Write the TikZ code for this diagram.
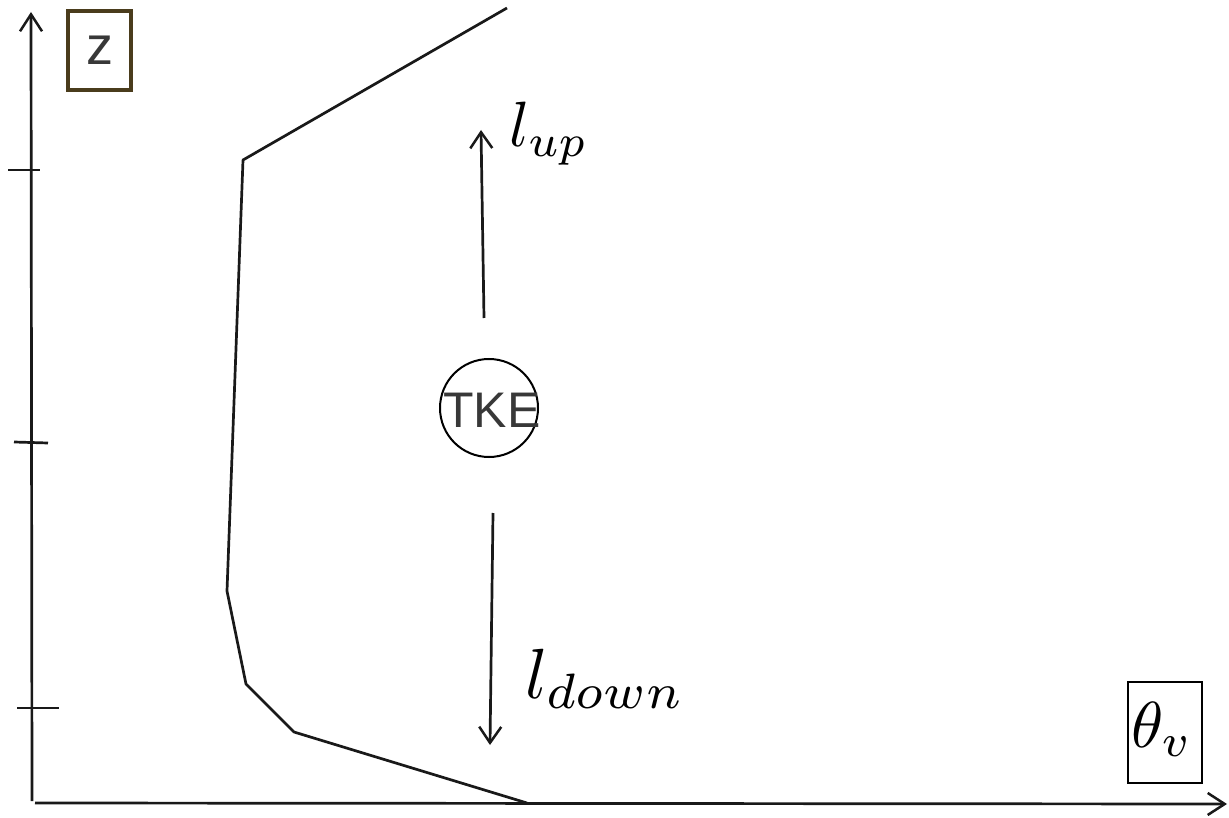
\documentclass[tikz,border=0pt]{standalone}
\usepackage{fontspec}
\usepackage{graphicx}
\setsansfont{Liberation Sans}
\usetikzlibrary{arrows.meta}
\definecolor{boxbrown}{HTML}{4A3C1C}
\definecolor{txtgray}{HTML}{383838}
\begin{document}
\begin{tikzpicture}[x=1pt,y=-1pt,
  axis/.style={line width=2.7pt,black!90,-{Straight Barb[length=17pt,width=22pt,line width=2.5pt]}},
  line/.style={line width=2.7pt,black!90},
  flux/.style={line width=2.7pt,black!90,-{Straight Barb[length=16pt,width=22pt,line width=2.5pt]}},
  mathlbl/.style={inner sep=0pt,anchor=base west}]
\useasboundingbox (0,0) rectangle (1229,818);
% axes
\coordinate (o) at (32,801);
\coordinate (ytop) at (31,12);
\coordinate (xo) at (35,803);
\coordinate (xend) at (1227,804);
\draw[axis] (o) -- (ytop);
\draw[axis] (xo) -- (xend);
% ticks
\coordinate (t1a) at (8,170); \coordinate (t1b) at (40,170);
\coordinate (t2a) at (14,442); \coordinate (t2b) at (48,443);
\coordinate (t3a) at (17,708); \coordinate (t3b) at (59,708);
\draw[line] (t1a) -- (t1b);
\draw[line] (t2a) -- (t2b);
\draw[line] (t3a) -- (t3b);
% z label
\node[draw=boxbrown,line width=4pt,minimum width=63pt,minimum height=79pt,inner sep=0pt,
  font=\sffamily\fontsize{54}{60}\selectfont,text=txtgray] (zlbl) at (99.5,50.5) {z};
% theta_v label
\node[draw=black,line width=2pt,minimum width=74pt,minimum height=101pt,inner sep=0pt] (thlbl) at (1164.5,732) {};
\node[mathlbl] (th) at (1131,747) {\scalebox{6.5}{$\theta_v$}};
% profile
\coordinate (p1) at (507,8);
\coordinate (p2) at (243,160);
\coordinate (p3) at (227,591);
\coordinate (p4) at (246,684);
\coordinate (p5) at (294,732);
\coordinate (p6) at (527,803);
\draw[line,line join=round] (p1) -- (p2) -- (p3) -- (p4) -- (p5) -- (p6);
% TKE
\node[draw,circle,line width=2pt,minimum size=98pt,inner sep=0pt] (tke) at (489,408) {};
\node[font=\sffamily\fontsize{50}{58}\selectfont,text=txtgray,inner sep=0pt] (tketxt) at (492,410) {TKE};
% fluxes
\coordinate (upS) at (484,318);
\coordinate (upE) at (481,130);
\coordinate (dnS) at (493,513);
\coordinate (dnE) at (490,745);
\draw[flux] (upS) -- (upE);
\draw[flux] (dnS) -- (dnE);
\node[mathlbl] (lup) at (509,147) {\scalebox{6.4}{$l_{up}$}};
\node[mathlbl] (ldown) at (525,698) {\scalebox{7.1}{$l_{down}$}};
\end{tikzpicture}
\end{document}
